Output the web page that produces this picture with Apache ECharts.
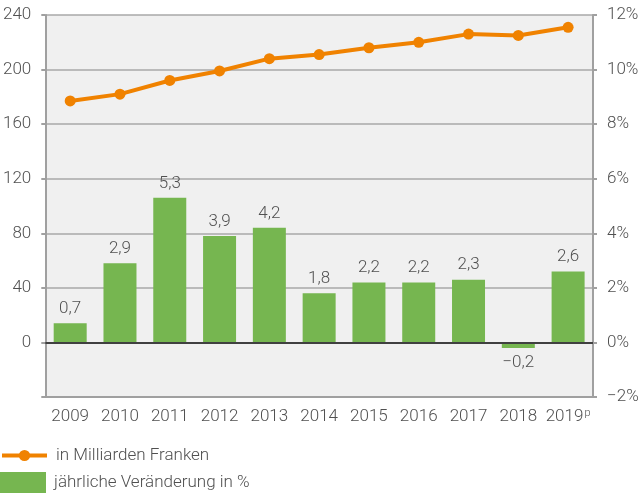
<!DOCTYPE html>
<html>
<head>
<meta charset="utf-8">
<script src="https://cdn.jsdelivr.net/npm/echarts@6/dist/echarts.min.js"></script>
<style>
  html, body { margin: 0; padding: 0; background: #fff; }
  #chart { width: 644px; height: 493px; }
</style>
</head>
<body>
<div id="chart"></div>
<script>
// Jahre
const years = ['2009', '2010', '2011', '2012', '2013', '2014', '2015', '2016', '2017', '2018', '2019']
// in Milliarden Franken
const totals = [177, 182, 192, 199, 208, 211, 216, 220, 226, 225, 231]
// jährliche Veränderung in %
const changes = [0.7, 2.9, 5.3, 3.9, 4.2, 1.8, 2.2, 2.2, 2.3, -0.2, 2.6]

const labelColor = '#505050'
const fontFamily = 'Roboto, "Noto Sans", sans-serif'
const fontWeight = 300
const fontSize = 17

function fmtNum(v) {
  let s = Math.abs(v).toFixed(1).replace('.', ',')
  return v < 0 ? '\u2212' + s : s
}

let myChart = echarts.init(document.getElementById('chart'))
let option = {
  textStyle: { fontFamily: fontFamily, fontWeight: fontWeight },
  animation: false,
  grid: {
    left: 44,
    right: 51,
    top: 15,
    bottom: 96,
    show: true,
    backgroundColor: '#f0f0f0',
    borderWidth: 0
  },
  legend: [
    {
      left: 0,
      top: 447,
      padding: 0,
      itemWidth: 45,
      itemHeight: 14,
      lineStyle: { width: 4 },
      data: ['in Milliarden Franken'],
      textStyle: { color: labelColor, fontSize: fontSize, fontFamily: fontFamily, fontWeight: fontWeight, padding: [0, 0, 0, 4] }
    },
    {
      left: 0,
      top: 472,
      padding: 0,
      itemWidth: 46,
      itemHeight: 21,
      itemStyle: { borderWidth: 0 },
      data: [{ name: 'jährliche Veränderung in %', icon: 'rect' }],
      textStyle: { color: labelColor, fontSize: fontSize, fontFamily: fontFamily, fontWeight: fontWeight, padding: [0, 0, 0, 3] }
    }
  ],
  xAxis: {
    type: 'category',
    data: years,
    axisTick: { show: false },
    axisLine: { onZero: false, lineStyle: { color: '#a0a0a0', width: 2 } },
    axisLabel: {
      color: labelColor,
      fontSize: fontSize,
      fontWeight: fontWeight,
      margin: 11,
      interval: 0,
      formatter: function (v) {
        return v === '2019' ? '{n|2019}{s|p}' : '{n|' + v + '}'
      },
      rich: {
        n: { fontSize: fontSize, color: labelColor, fontWeight: fontWeight },
        s: { fontSize: 11, color: labelColor, fontWeight: fontWeight, verticalAlign: 'top', padding: [0, 0, 6, 1] }
      }
    }
  },
  yAxis: [
    {
      type: 'value',
      min: -40,
      max: 240,
      interval: 40,
      axisLine: { show: true, lineStyle: { color: '#a0a0a0', width: 2 } },
      axisTick: { show: true, length: 4, lineStyle: { color: '#a0a0a0', width: 2 } },
      axisLabel: {
        color: labelColor,
        fontSize: fontSize,
        fontWeight: fontWeight,
        margin: 14,
        formatter: function (v) {
          return v === -40 ? '' : String(v)
        }
      },
      splitLine: { lineStyle: { color: '#a8a8a8', width: 1.5 } }
    },
    {
      type: 'value',
      min: -2,
      max: 12,
      interval: 2,
      position: 'right',
      axisLine: { show: true, lineStyle: { color: '#a0a0a0', width: 2 } },
      axisTick: { show: true, length: 4, lineStyle: { color: '#a0a0a0', width: 2 } },
      axisLabel: {
        color: labelColor,
        fontSize: fontSize,
        fontWeight: fontWeight,
        margin: 14,
        formatter: function (v) {
          return (v < 0 ? '\u2212' + Math.abs(v) : v) + '%'
        }
      },
      splitLine: { show: false }
    }
  ],
  series: [
    {
      name: 'jährliche Veränderung in %',
      type: 'bar',
      yAxisIndex: 1,
      barWidth: 33,
      data: changes.map(function (v) {
        // negative Werte: Beschriftung unterhalb
        return v < 0 ? { value: v, label: { position: 'bottom' } } : v
      }),
      itemStyle: { color: '#76b650' },
      label: {
        show: true,
        color: labelColor,
        fontSize: fontSize,
        fontWeight: fontWeight,
        distance: 6,
        position: 'top',
        formatter: function (p) {
          return fmtNum(p.value)
        }
      },
      markLine: {
        silent: true,
        symbol: 'none',
        label: { show: false },
        lineStyle: { color: '#404040', type: 'solid', width: 2 },
        data: [{ yAxis: 0 }]
      },
      z: 2
    },
    {
      name: 'in Milliarden Franken',
      type: 'line',
      yAxisIndex: 0,
      data: totals,
      symbol: 'circle',
      symbolSize: 11,
      lineStyle: { color: '#f08200', width: 4 },
      itemStyle: { color: '#f08200' },
      z: 3
    }
  ]
}
myChart.setOption(option)
</script>
</body>
</html>
